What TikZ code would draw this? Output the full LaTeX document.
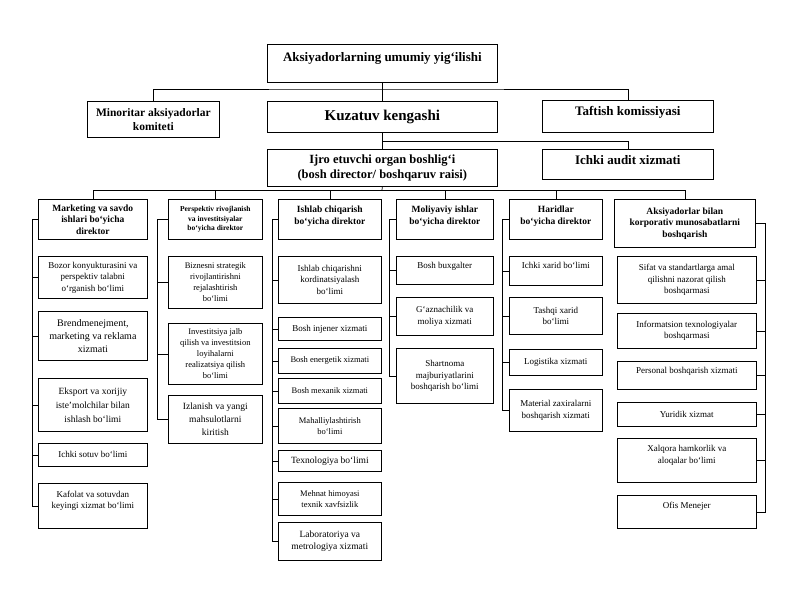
\documentclass[tikz,border=0pt]{standalone}
\usepackage{fontspec}
\setmainfont{Liberation Serif}
\usetikzlibrary{positioning}

\begin{document}
\begin{tikzpicture}[
		x=1pt, y=-1pt, line width=0.7pt,
		chief/.style={draw, align=center, inner sep=1pt, anchor=north west, font={\bfseries\fontsize{13}{15}\selectfont}},
		dirbox/.style={draw, align=center, inner sep=1pt, anchor=north west, font={\bfseries\fontsize{9.5}{11.5}\selectfont}},
		unitbox/.style={draw, align=center, inner sep=1pt, anchor=north west, font={\fontsize{9}{11.5}\selectfont}}
	]
		\useasboundingbox (0,0) rectangle (800,600);

		\node[chief, minimum width=230, minimum height=38, text depth=13pt] (agm) at (267,44) {Aksiyadorlarning umumiy yig‘ilishi};
		\node[chief, minimum width=132, minimum height=36, font={\bfseries\fontsize{11.5}{14}\selectfont}] (minor) at (87,101) {Minoritar aksiyadorlar\\komiteti};
		\node[chief, minimum width=230, minimum height=31, font={\bfseries\fontsize{15}{17}\selectfont}] (kuz) at (267,101) {Kuzatuv kengashi};
		\node[chief, minimum width=171, minimum height=32, text depth=11pt] (taft) at (542,100) {Taftish komissiyasi};
		\node[chief, minimum width=230, minimum height=37, font={\bfseries\fontsize{12.5}{15}\selectfont}] (ijro) at (267,149) {Ijro etuvchi organ boshlig‘i\\(bosh director/ boshqaruv raisi)};
		\node[chief, minimum width=171, minimum height=30, text depth=9pt] (audit) at (542,149) {Ichki audit xizmati};

		\node[dirbox, minimum width=109, minimum height=40] (c1h) at (38,199) {Marketing va savdo\\ishlari bo‘yicha\\direktor};
		\node[dirbox, minimum width=94, minimum height=40, font={\bfseries\fontsize{7.5}{9.5}\selectfont}] (c2h) at (168,199) {Perspektiv rivojlanish\\va investitsiyalar\\bo‘yicha direktor};
		\node[dirbox, minimum width=103, minimum height=40, text depth=8pt] (c3h) at (278,199) {Ishlab chiqarish\\bo‘yicha direktor};
		\node[dirbox, minimum width=97, minimum height=40, text depth=8pt] (c4h) at (396,199) {Moliyaviy ishlar\\bo‘yicha direktor};
		\node[dirbox, minimum width=93, minimum height=40, text depth=8pt] (c5h) at (509,199) {Haridlar\\bo‘yicha direktor};
		\node[dirbox, minimum width=141, minimum height=48] (c6h) at (614,199) {Aksiyadorlar bilan\\korporativ munosabatlarni\\boshqarish};

		\node[unitbox, minimum width=109, minimum height=42] (c1b1) at (38,256) {Bozor konyukturasini va\\perspektiv talabni\\o‘rganish bo‘limi};
		\node[unitbox, minimum width=109, minimum height=49, font={\fontsize{10}{13}\selectfont}] (c1b2) at (38,311) {Brendmenejment,\\marketing va reklama\\xizmati};
		\node[unitbox, minimum width=109, minimum height=53, font={\fontsize{9.5}{14}\selectfont}] (c1b3) at (38,378) {Eksport va xorijiy\\iste’molchilar bilan\\ishlash bo‘limi};
		\node[unitbox, minimum width=109, minimum height=23] (c1b4) at (38,443) {Ichki sotuv bo‘limi};
		\node[unitbox, minimum width=109, minimum height=45, text depth=12pt] (c1b5) at (38,483) {Kafolat va sotuvdan\\keyingi xizmat bo‘limi};

		\node[unitbox, minimum width=94, minimum height=52, font={\fontsize{8.5}{11}\selectfont}] (c2b1) at (168,256) {Biznesni strategik\\rivojlantirishni\\rejalashtirish\\bo‘limi};
		\node[unitbox, minimum width=94, minimum height=61, font={\fontsize{8.5}{11}\selectfont}] (c2b2) at (168,323) {Investitsiya jalb\\qilish va investitsion\\loyihalarni\\realizatsiya qilish\\bo‘limi};
		\node[unitbox, minimum width=94, minimum height=48, font={\fontsize{9.5}{13}\selectfont}] (c2b3) at (168,395) {Izlanish va yangi\\mahsulotlarni\\kiritish};

		\node[unitbox, minimum width=103, minimum height=47] (c3b1) at (278,256) {Ishlab chiqarishni\\kordinatsiyalash\\bo‘limi};
		\node[unitbox, minimum width=103, minimum height=23] (c3b2) at (278,317) {Bosh injener xizmati};
		\node[unitbox, minimum width=103, minimum height=25, font={\fontsize{8.5}{11}\selectfont}] (c3b3) at (278,348) {Bosh energetik xizmati};
		\node[unitbox, minimum width=103, minimum height=25, font={\fontsize{8.5}{11}\selectfont}] (c3b4) at (278,378) {Bosh mexanik xizmati};
		\node[unitbox, minimum width=103, minimum height=35, font={\fontsize{8.5}{11}\selectfont}] (c3b5) at (278,408) {Mahalliylashtirish\\bo‘limi};
		\node[unitbox, minimum width=103, minimum height=21, font={\fontsize{9.5}{11.5}\selectfont}] (c3b6) at (278,450) {Texnologiya bo‘limi};
		\node[unitbox, minimum width=103, minimum height=33, font={\fontsize{8.5}{11}\selectfont}] (c3b7) at (278,482) {Mehnat himoyasi\\texnik xavfsizlik};
		\node[unitbox, minimum width=103, minimum height=38, font={\fontsize{9.5}{12.5}\selectfont}] (c3b8) at (278,522) {Laboratoriya va\\metrologiya xizmati};

		\node[unitbox, minimum width=97, minimum height=28, text depth=10pt] (c4b1) at (396,256) {Bosh buxgalter};
		\node[unitbox, minimum width=97, minimum height=38] (c4b2) at (396,297) {G‘aznachilik va\\moliya xizmati};
		\node[unitbox, minimum width=97, minimum height=55] (c4b3) at (396,348) {Shartnoma\\majburiyatlarini\\boshqarish bo‘limi};

		\node[unitbox, minimum width=93, minimum height=29, text depth=10pt] (c5b1) at (509,256) {Ichki xarid bo‘limi};
		\node[unitbox, minimum width=93, minimum height=37] (c5b2) at (509,297) {Tashqi xarid\\bo‘limi};
		\node[unitbox, minimum width=93, minimum height=26] (c5b3) at (509,349) {Logistika xizmati};
		\node[unitbox, minimum width=93, minimum height=42] (c5b4) at (509,389) {Material zaxiralarni\\boshqarish xizmati};

		\node[unitbox, minimum width=139, minimum height=47] (c6b1) at (617,256) {Sifat va standartlarga amal\\qilishni nazorat qilish\\boshqarmasi};
		\node[unitbox, minimum width=139, minimum height=35] (c6b2) at (617,313) {Informatsion texnologiyalar\\boshqarmasi};
		\node[unitbox, minimum width=139, minimum height=28, text depth=10pt] (c6b3) at (617,361) {Personal boshqarish xizmati};
		\node[unitbox, minimum width=139, minimum height=24] (c6b4) at (617,402) {Yuridik xizmat};
		\node[unitbox, minimum width=139, minimum height=44, text depth=12pt] (c6b5) at (617,438) {Xalqora hamkorlik va\\aloqalar bo‘limi};
		\node[unitbox, minimum width=139, minimum height=33, text depth=14pt] (c6b6) at (617,495) {Ofis Menejer};

		\coordinate (topbus) at (382,89);
		\coordinate (midbus) at (382,141);
		\coordinate (dirbus) at (382,190);

		\draw (agm.south) -- (kuz.north);
		\draw (minor.north) |- (topbus) -| (taft.north);
		\draw (kuz.south) -- (ijro.north);
		\draw (midbus) -| (audit.north);
		\draw (ijro.south) -- (dirbus);
		\draw (c1h.north) |- (dirbus) -| (c6h.north);
		\draw (dirbus) -| (c2h.north) (dirbus) -| (c3h.north) (dirbus) -| (c4h.north) (dirbus) -| (c5h.north);

		\coordinate[left=6pt of c1h.west] (c1r);
		\coordinate[left=11pt of c2h.west] (c2r);
		\coordinate[left=6pt of c3h.west] (c3r);
		\coordinate[left=7pt of c4h.west] (c4r);
		\coordinate[left=7pt of c5h.west] (c5r);
		\coordinate[right=10pt of c6h.east] (c6r);

		\draw (c1h.west) -- (c1r) |- (c1b5.west);
		\draw (c1r) |- (c1b1.west) (c1r) |- (c1b2.west) (c1r) |- (c1b3.west) (c1r) |- (c1b4.west);
		\draw (c2h.west) -- (c2r) |- (c2b3.west);
		\draw (c2r) |- (c2b1.west) (c2r) |- (c2b2.west);
		\draw (c3h.west) -- (c3r) |- (c3b8.west);
		\draw (c3r) |- (c3b1.west) (c3r) |- (c3b2.west) (c3r) |- (c3b3.west) (c3r) |- (c3b4.west)
			(c3r) |- (c3b5.west) (c3r) |- (c3b6.west) (c3r) |- (c3b7.west);
		\draw (c4h.west) -- (c4r) |- (c4b3.west);
		\draw (c4r) |- (c4b1.west) (c4r) |- (c4b2.west);
		\draw (c5h.west) -- (c5r) |- (c5b4.west);
		\draw (c5r) |- (c5b1.west) (c5r) |- (c5b2.west) (c5r) |- (c5b3.west);
		\draw (c6h.east) -- (c6r) |- (c6b6.east);
		\draw (c6r) |- (c6b1.east) (c6r) |- (c6b2.east) (c6r) |- (c6b3.east) (c6r) |- (c6b4.east) (c6r) |- (c6b5.east);
	\end{tikzpicture}
\end{document}
